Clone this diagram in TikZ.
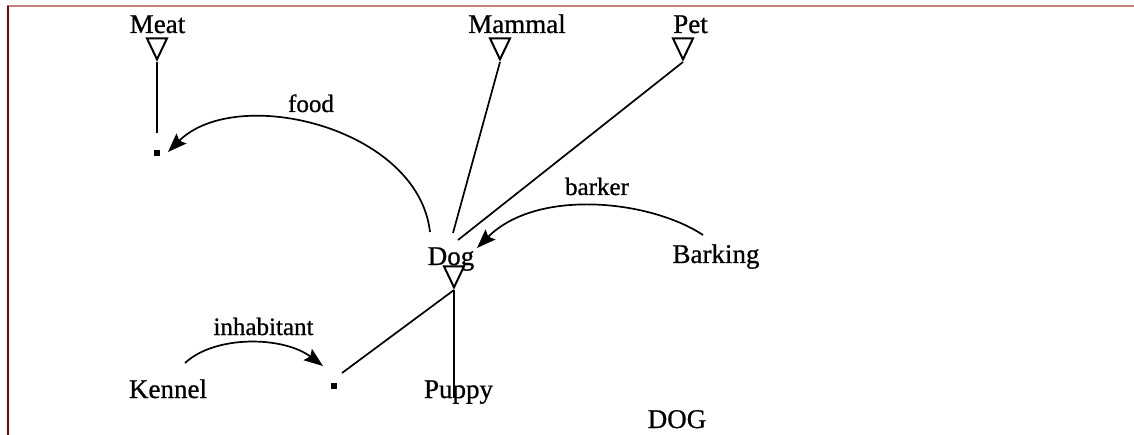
\documentclass[tikz,border=0pt]{standalone}
\usepackage{fontspec}
\setmainfont{Liberation Serif}
\newfontfamily\netfont{Liberation Serif}[FakeBold=0.8]
\usetikzlibrary{shapes.geometric,arrows.meta,calc}
\definecolor{toprule}{RGB}{198,128,128}
\definecolor{siderule}{RGB}{139,0,0}

\begin{document}
\begin{tikzpicture}[x=1pt,y=1pt,
  concept/.style={font=\netfont\fontsize{27}{30}\selectfont, inner sep=0pt, anchor=base},
  rel/.style={font=\netfont\fontsize{25}{28}\selectfont, inner sep=0pt, anchor=base},
  isa/.style={draw, line width=2pt, isosceles triangle, isosceles triangle stretches,
    shape border rotate=-90, minimum width=20pt, minimum height=21pt, inner sep=0pt, anchor=apex},
  refdot/.style={fill, minimum size=6.5pt, inner sep=0pt},
  link/.style={line width=1.7pt},
  role/.style={line width=1.7pt, -{Stealth[length=19pt,width=14pt,inset=3pt]}},
]
\useasboundingbox (0,0) rectangle (1134,-435);

% page frame
\draw[line width=2pt, toprule] (7,-6) -- (1134,-6);
\draw[line width=2pt, siderule] (8,-6) -- (8,-435);

% concepts
\node[concept] (meat)     at (157.5,-33) {Meat};
\node[concept] (mammal)   at (517,-33)   {Mammal};
\node[concept] (pet)      at (690.5,-33) {Pet};
\node[concept] (dog)      at (451,-265)  {Dog};
\node[concept] (barking)  at (716,-263)  {Barking};
\node[concept] (puppy)    at (458.5,-398){Puppy};
\node[concept] (kennel)   at (168,-398)  {Kennel};
\node[concept] (title)    at (677,-428)  {DOG};

% is-a markers
\node[isa] (meatT)   at (157,-62)  {};
\node[isa] (mammalT) at (500,-62)  {};
\node[isa] (petT)    at (683,-62)  {};
\node[isa] (dogT)    at (454,-290) {};

% anonymous referents
\node[refdot] (meatdot) at (157,-153) {};
\node[refdot] (kdot)    at (334,-386) {};

% role labels
\node[rel] (food)        at (311,-112)   {food};
\node[rel] (barker)      at (597,-195)   {barker};
\node[rel] (inhabitant)  at (263.5,-335) {inhabitant};

% is-a links
\draw[link] (meatT.apex) -- ($(meatdot)+(0,20)$);
\draw[link] (mammalT.apex) -- ($(dog.base)+(2,32)$);
\draw[link] (petT.apex) -- ($(dog.base)+(7,25)$);
\draw[link] (dogT.apex) -- (dogT.apex |- puppy.base);
\draw[link] (dogT.apex) -- ($(kdot)+(8,13)$);

% role arcs
\draw[role] ($(dog.base)+(-21,33)$) .. controls +(-12,105) and +(68,68) .. ($(meatdot)+(11,1)$);
\draw[role] ($(barking.base)+(-13,28)$) .. controls +(-53,35) and +(60,60) .. ($(dog.base)+(26,17)$);
\draw[role] ($(kennel.base)+(17,35)$) .. controls +(30,28) and +(-40,30) .. ($(kdot)+(-11,20)$);
\end{tikzpicture}
\end{document}
